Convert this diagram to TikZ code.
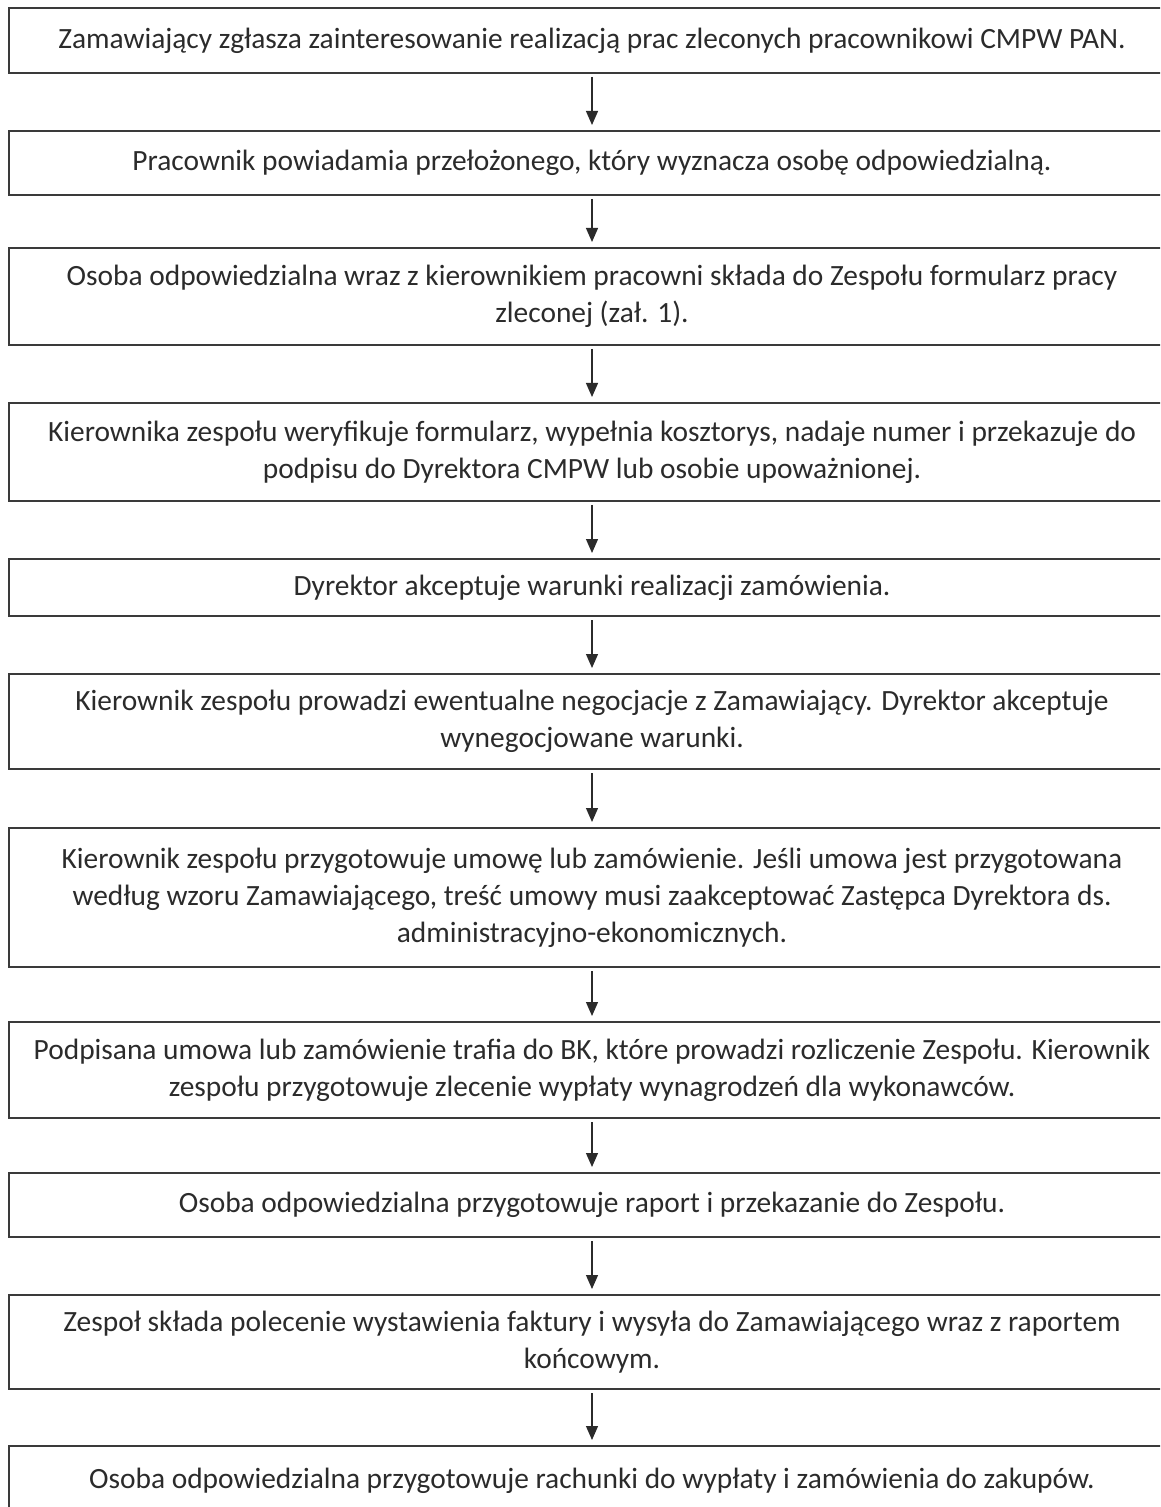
\documentclass[tikz,border=0pt]{standalone}
\usepackage{fontspec}
\setmainfont{Carlito}
\usetikzlibrary{arrows.meta}
\definecolor{inkc}{HTML}{2B2B2B}
\definecolor{linec}{HTML}{3A3A3A}
\tikzset{
  stepbox/.style={draw=linec, line width=1pt, minimum width=583pt, inner xsep=2pt, inner ysep=0pt,
    align=center, text=inkc, font=\fontsize{14.7pt}{18.5pt}\selectfont},
  flowarrow/.style={draw=inkc, line width=0.6pt, shorten <=1.5pt, shorten >=2.5pt,
    -{Triangle[length=7pt,width=6pt]}}
}
\begin{document}
\begin{tikzpicture}[x=0.5pt,y=-0.5pt]
\clip (0,0) rectangle (1160,1507);
\fill[white] (0,0) rectangle (1160,1507);
\node[stepbox, minimum height=32.5pt] (b1) at (592,40.5) {Zamawiający zgłasza zainteresowanie realizacją prac zleconych pracownikowi CMPW PAN.};
\node[stepbox, minimum height=32pt] (b2) at (592,163) {Pracownik powiadamia przełożonego, który wyznacza osobę odpowiedzialną.};
\node[stepbox, minimum height=48.5pt] (b3) at (592,296.5) {Osoba odpowiedzialna wraz z kierownikiem pracowni składa do Zespołu formularz pracy\\ zleconej (zał. 1).};
\node[stepbox, minimum height=49pt] (b4) at (592,452) {Kierownika zespołu weryfikuje formularz, wypełnia kosztorys, nadaje numer i przekazuje do\\ podpisu do Dyrektora CMPW lub osobie upoważnionej.};
\node[stepbox, minimum height=28.5pt] (b5) at (592,587.5) {Dyrektor akceptuje warunki realizacji zamówienia.};
\node[stepbox, minimum height=47.5pt] (b6) at (592,721.5) {Kierownik zespołu prowadzi ewentualne negocjacje z Zamawiający. Dyrektor akceptuje\\ wynegocjowane warunki.};
\node[stepbox, minimum height=69.5pt] (b7) at (592,897.5) {Kierownik zespołu przygotowuje umowę lub zamówienie. Jeśli umowa jest przygotowana\\ według wzoru Zamawiającego, treść umowy musi zaakceptować Zastępca Dyrektora ds.\\ administracyjno-ekonomicznych.};
\node[stepbox, minimum height=48pt] (b8) at (592,1070) {Podpisana umowa lub zamówienie trafia do BK, które prowadzi rozliczenie Zespołu. Kierownik\\ zespołu przygotowuje zlecenie wypłaty wynagrodzeń dla wykonawców.};
\node[stepbox, minimum height=32pt] (b9) at (592,1205) {Osoba odpowiedzialna przygotowuje raport i przekazanie do Zespołu.};
\node[stepbox, minimum height=47pt] (b10) at (592,1342) {Zespoł składa polecenie wystawienia faktury i wysyła do Zamawiającego wraz z raportem\\ końcowym.};
\node[stepbox, minimum height=34.5pt] (b11) at (592,1480.5) {Osoba odpowiedzialna przygotowuje rachunki do wypłaty i zamówienia do zakupów.};
\foreach \a/\b in {b1/b2,b2/b3,b3/b4,b4/b5,b5/b6,b6/b7,b7/b8,b8/b9,b9/b10,b10/b11}
  \draw[flowarrow] (\a) -- (\b);
\end{tikzpicture}
\end{document}
